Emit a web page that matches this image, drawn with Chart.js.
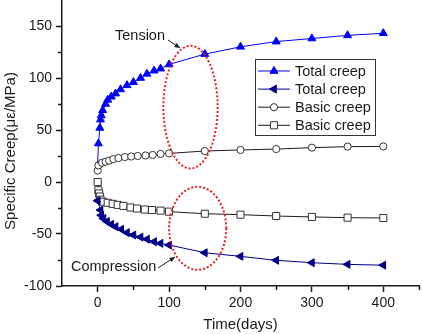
<!DOCTYPE html>
<html>
<head>
<meta charset="utf-8">
<script src="https://cdn.jsdelivr.net/npm/chart.js@4/dist/chart.umd.min.js"></script>
<style>
  html, body { margin: 0; padding: 0; background: #fff; }
  #wrap { width: 423px; height: 334px; }
</style>
</head>
<body>
<div id="wrap"><canvas id="creepChart" width="423" height="334"></canvas></div>
<script>
// ── Data ────────────────────────────────────────────────────
const tensionTotalDays = [0, 1, 3, 4, 5, 7, 11, 14, 19, 25, 32, 41, 50, 60, 69, 79, 88, 100, 150, 200, 250, 300, 350, 400];
const tensionTotal     = [18, 37, 52, 60, 64, 69, 75, 79, 82, 85, 89, 93, 96, 100, 104, 107, 109, 113, 123, 130, 135, 138, 141, 143];

const compressionTotalDays = [0, 4, 5, 8, 13, 19, 25, 33, 41, 50, 60, 69, 79, 88, 100, 150, 200, 250, 300, 350, 400];
const compressionTotal     = [-18, -27, -32, -35, -38, -40.7, -43, -45.5, -48.7, -51, -53, -55, -57.4, -59, -60.6, -68, -71.5, -75.3, -77.6, -79.2, -80];

const tensionBasicDays = [0, 1, 6, 11, 16, 22, 29, 38, 47, 56, 67, 77, 88, 100, 150, 200, 250, 300, 350, 400];
const tensionBasic     = [11, 16, 18.5, 19.5, 20.5, 22, 23, 24, 24.5, 25, 25.5, 26, 27, 27.5, 29.8, 30.8, 31.7, 33, 34, 34.2];

const compressionBasicDays = [0, 1, 2, 3, 4, 8, 14, 21, 28, 36, 46, 55, 66, 76, 88, 100, 150, 200, 250, 300, 350, 400];
const compressionBasic     = [0, -8, -11, -14, -17, -19, -20, -21, -22, -23, -24.5, -25.5, -26.5, -27, -27.5, -28.5, -30.5, -31.4, -32.7, -33.6, -34.3, -34.6];

const seriesLabels = ['Total creep', 'Total creep', 'Basic creep', 'Basic creep'];

const xTicks = [0, 100, 200, 300, 400];
const xMinorTicks = [50, 150, 250, 350, 450];
const yTicks = [-100, -50, 0, 50, 100, 150];
const yMinorTicks = [-75, -25, 25, 75, 125];

// ── Style ───────────────────────────────────────────────────
const FONT = "'Liberation Sans', Arial, sans-serif";
const INK = '#1a1a1a';
const BLUE = '#0000ff';
const NAVY = '#00008b';

const pts = (xs, ys) => xs.map((x, i) => ({ x: x, y: ys[i] }));

// drop the label overhang padding Chart.js reserves at the axis ends
const noEndPadding = (s) => {
  s.paddingTop = 0; s.paddingBottom = 0;
  s.paddingLeft = 0; s.paddingRight = 0;
};

// ── Annotation plugin: minor ticks, red ellipses, labels, legend ──
const decorations = {
  id: 'decorations',
  afterDraw(chart) {
    const { ctx, scales: { x, y } } = chart;
    ctx.save();

    // minor ticks
    ctx.strokeStyle = INK;
    ctx.lineWidth = 1.5;
    ctx.beginPath();
    xMinorTicks.forEach(v => {
      const px = Math.round(x.getPixelForValue(v)) + 0.5;
      ctx.moveTo(px, y.bottom); ctx.lineTo(px, y.bottom + 4);
    });
    yMinorTicks.forEach(v => {
      const py = Math.round(y.getPixelForValue(v)) + 0.5;
      ctx.moveTo(x.left, py); ctx.lineTo(x.left - 4, py);
    });
    ctx.stroke();

    // y axis title (sits a little below the axis centre in the reference)
    ctx.save();
    ctx.translate(11, 151);
    ctx.rotate(-Math.PI / 2);
    ctx.font = '15px ' + FONT;
    ctx.fillStyle = INK;
    ctx.textAlign = 'center';
    ctx.textBaseline = 'middle';
    ctx.fillText('Specific Creep(με/MPa)', 0, 0);
    ctx.restore();

    // red dotted ellipses (data coords: centre day, centre value, half-width days, half-height)
    const ellipse = (cx, cy, rx, ry) => {
      const px = x.getPixelForValue(cx), py = y.getPixelForValue(cy);
      const prx = Math.abs(x.getPixelForValue(cx + rx) - px);
      const pry = Math.abs(y.getPixelForValue(cy + ry) - py);
      ctx.beginPath();
      ctx.ellipse(px, py, prx, pry, 0, 0, Math.PI * 2);
      ctx.stroke();
    };
    ctx.strokeStyle = '#ee1c1c';
    ctx.lineWidth = 2;
    ctx.setLineDash([2, 2]);
    ellipse(130, 72, 38, 59);
    ellipse(140, -44.5, 40, 40);
    ctx.setLineDash([]);

    // arrows + text labels
    const arrow = (x1, y1, x2, y2) => {
      ctx.strokeStyle = INK; ctx.fillStyle = INK; ctx.lineWidth = 1;
      ctx.beginPath(); ctx.moveTo(x1, y1); ctx.lineTo(x2, y2); ctx.stroke();
      const a = Math.atan2(y2 - y1, x2 - x1);
      ctx.beginPath();
      ctx.moveTo(x2, y2);
      ctx.lineTo(x2 - 6 * Math.cos(a - 0.4), y2 - 6 * Math.sin(a - 0.4));
      ctx.lineTo(x2 - 6 * Math.cos(a + 0.4), y2 - 6 * Math.sin(a + 0.4));
      ctx.closePath(); ctx.fill();
    };
    ctx.font = '14.5px ' + FONT;
    ctx.fillStyle = INK;
    ctx.textBaseline = 'middle';
    ctx.textAlign = 'left';
    ctx.fillText('Tension', 115, 36);
    arrow(168, 40, 180, 48);
    ctx.fillStyle = INK;
    ctx.fillText('Compression', 71, 267);
    arrow(158, 268, 175, 257);

    // legend box
    const lx = 255.5, ly = 59.5, lw = 120, lh = 76;
    ctx.fillStyle = '#fff';
    ctx.fillRect(lx, ly, lw, lh);
    ctx.strokeStyle = '#333';
    ctx.lineWidth = 1;
    ctx.strokeRect(lx, ly, lw, lh);
    chart.data.datasets.forEach((ds, i) => {
      const ry = 71 + i * 18.1;
      ctx.strokeStyle = ds.borderColor;
      ctx.lineWidth = 1;
      ctx.beginPath(); ctx.moveTo(258, ry); ctx.lineTo(290, ry); ctx.stroke();
      ctx.fillStyle = ds.pointBackgroundColor;
      ctx.strokeStyle = ds.pointBorderColor;
      Chart.helpers.drawPoint(ctx, {
        pointStyle: ds.pointStyle,
        rotation: ds.pointRotation || 0,
        radius: ds.legendRadius,
        borderWidth: 1
      }, 274, ry);
      ctx.fillStyle = INK;
      ctx.font = '14.5px ' + FONT;
      ctx.fillText(ds.label, 295, ry + 0.5);
    });

    ctx.restore();
  }
};

// ── Chart ───────────────────────────────────────────────────
new Chart(document.getElementById('creepChart'), {
  type: 'line',
  data: {
    datasets: [
      {
        label: seriesLabels[0],
        data: pts(tensionTotalDays, tensionTotal),
        borderColor: BLUE,
        backgroundColor: BLUE,
        pointBackgroundColor: BLUE,
        pointBorderColor: BLUE,
        pointStyle: 'triangle',
        pointRadius: (c) => c.dataIndex === 0 ? 0 : 4.6,
        legendRadius: 4.6,
        borderWidth: 1,
        pointBorderWidth: 1,
      },
      {
        label: seriesLabels[1],
        data: pts(compressionTotalDays, compressionTotal),
        borderColor: NAVY,
        backgroundColor: NAVY,
        pointBackgroundColor: NAVY,
        pointBorderColor: NAVY,
        pointStyle: 'triangle',
        pointRotation: -90,
        pointRadius: 4.6,
        legendRadius: 4.6,
        borderWidth: 1,
        pointBorderWidth: 1,
      },
      {
        label: seriesLabels[2],
        data: pts(tensionBasicDays, tensionBasic),
        borderColor: INK,
        backgroundColor: '#fff',
        pointBackgroundColor: '#fff',
        pointBorderColor: '#333',
        pointStyle: 'circle',
        pointRadius: 3.6,
        legendRadius: 3.6,
        borderWidth: 1,
        pointBorderWidth: 1,
      },
      {
        label: seriesLabels[3],
        data: pts(compressionBasicDays, compressionBasic),
        borderColor: INK,
        backgroundColor: '#fff',
        pointBackgroundColor: '#fff',
        pointBorderColor: '#333',
        pointStyle: 'rect',
        pointRadius: 5,
        legendRadius: 5,
        borderWidth: 1,
        pointBorderWidth: 1,
      }
    ]
  },
  options: {
    responsive: false,
    animation: false,
    devicePixelRatio: 1,
    layout: { autoPadding: false, padding: { top: 0, right: 4, left: 0, bottom: 0 } },
    plugins: {
      legend: { display: false },
      tooltip: { enabled: false }
    },
    scales: {
      x: {
        type: 'linear',
        min: -50,
        max: 450,
        afterFit: (s) => { s.height = 48; noEndPadding(s); },
        afterBuildTicks: (s) => { s.ticks = xTicks.map(v => ({ value: v })); },
        border: { color: INK, width: 1.5 },
        grid: { drawOnChartArea: false, drawTicks: true, tickLength: 6, tickColor: INK, tickWidth: 1.5 },
        ticks: {
          color: INK,
          padding: 3,
          maxRotation: 0,
          font: { family: FONT, size: 14 }
        },
        title: {
          display: true,
          text: 'Time(days)',
          color: INK,
          padding: { top: 0, bottom: 0 },
          font: { family: FONT, size: 15 }
        }
      },
      y: {
        type: 'linear',
        min: -100,
        max: 175,
        afterFit: (s) => { s.width = 62; noEndPadding(s); },
        afterBuildTicks: (s) => { s.ticks = yTicks.map(v => ({ value: v })); },
        border: { color: INK, width: 1.5 },
        grid: { drawOnChartArea: false, drawTicks: true, tickLength: 6, tickColor: INK, tickWidth: 1.5 },
        ticks: {
          color: INK,
          padding: 4,
          font: { family: FONT, size: 14 }
        },
        title: { display: false }
      }
    }
  },
  plugins: [decorations]
});
</script>
</body>
</html>
